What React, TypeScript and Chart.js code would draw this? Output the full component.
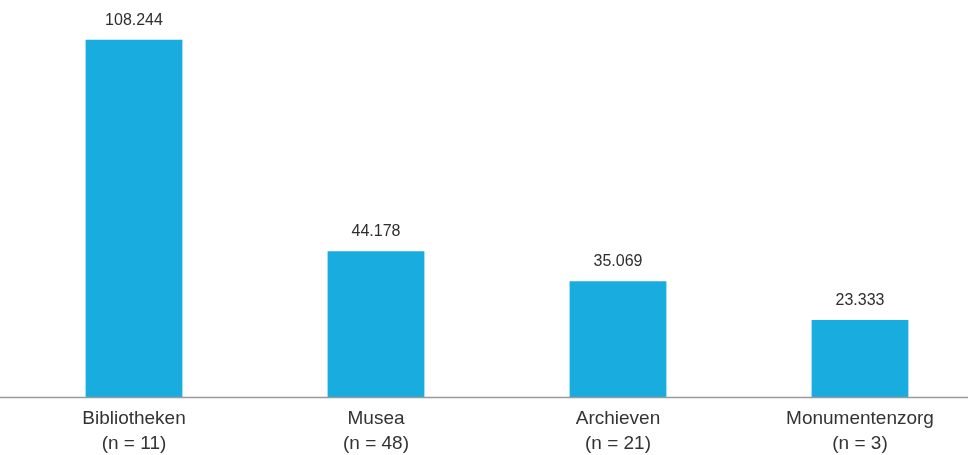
import React, { useEffect, useRef } from "react";
import { Chart, registerables } from "chart.js";

Chart.register(...registerables);

const categories: string[][] = [
  ["Bibliotheken", "(n = 11)"],
  ["Musea", "(n = 48)"],
  ["Archieven", "(n = 21)"],
  ["Monumentenzorg", "(n = 3)"],
];
const values: number[] = [108244, 44178, 35069, 23333];
const valueLabels: string[] = ["108.244", "44.178", "35.069", "23.333"];

const BAR_COLOR = "#19addf";

const labelsPlugin = {
  id: "customLabels",
  afterDatasetsDraw(chart: any) {
    const { ctx, chartArea } = chart;
    const xs = chart.scales.x;
    const ys = chart.scales.y;
    ctx.save();
    // baseline
    ctx.strokeStyle = "#9a9a9a";
    ctx.lineWidth = 1.5;
    ctx.beginPath();
    ctx.moveTo(0, chartArea.bottom + 0.5);
    ctx.lineTo(chart.width, chartArea.bottom + 0.5);
    ctx.stroke();
    // value labels
    ctx.fillStyle = "#2e2e2e";
    ctx.textAlign = "center";
    ctx.textBaseline = "alphabetic";
    ctx.font = "16px 'Liberation Sans', Arial, sans-serif";
    values.forEach((v, i) => {
      const x = xs.getPixelForValue(i);
      const y = ys.getPixelForValue(v);
      ctx.fillText(valueLabels[i], x, y - 15);
    });
    // category labels
    ctx.fillStyle = "#333333";
    ctx.font = "19px 'Liberation Sans', Arial, sans-serif";
    ctx.textBaseline = "middle";
    categories.forEach((lines, i) => {
      const x = xs.getPixelForValue(i);
      lines.forEach((t, j) => {
        ctx.fillText(t, x, chartArea.bottom + 22 + j * 25);
      });
    });
    ctx.restore();
  },
};

export default function App() {
  const ref = useRef<HTMLCanvasElement>(null);
  useEffect(() => {
    document.body.style.margin = "0";
    document.body.style.background = "#ffffff";
    const chart = new Chart(ref.current!, {
      type: "bar",
      data: {
        labels: categories.map((c) => c.join(" ")),
        datasets: [
          {
            data: values,
            backgroundColor: BAR_COLOR,
            borderWidth: 0,
            barPercentage: 0.4,
            categoryPercentage: 1,
          },
        ],
      },
      options: {
        animation: false,
        responsive: false,
        layout: { padding: { top: 34, bottom: 58, left: 13, right: 9 } },
        plugins: { legend: { display: false }, tooltip: { enabled: false } },
        scales: {
          x: { display: false },
          y: { display: false, min: 0, max: 110000 },
        },
      },
      plugins: [labelsPlugin],
    });
    return () => chart.destroy();
  }, []);
  return (
    <div style={{ width: 968, height: 455, overflow: "hidden", background: "#fff" }}>
      <canvas ref={ref} width={990} height={455} style={{ display: "block" }} />
    </div>
  );
}
